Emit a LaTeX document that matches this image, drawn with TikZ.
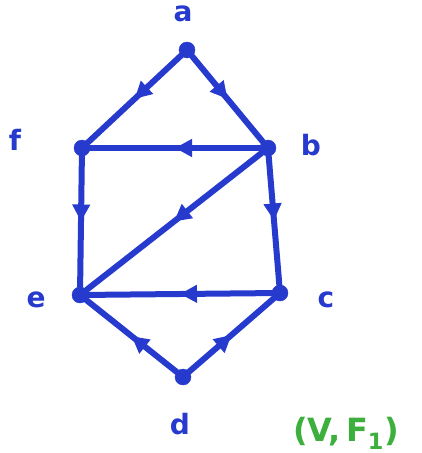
\documentclass[tikz,border=0pt]{standalone}
\usepackage{fontspec}
\setmainfont{DejaVu Sans}
\usetikzlibrary{arrows.meta,decorations.markings}
\definecolor{pen}{RGB}{38,58,205}
\definecolor{gpen}{RGB}{60,175,60}
\tikzset{
  vert/.style={circle,fill=pen,draw=pen,inner sep=0pt,minimum size=16pt},
  lab/.style={text=pen,font=\fontsize{28}{28}\selectfont\bfseries},
  edge/.style={draw=pen,line width=6pt,line cap=round,
    postaction={decorate},
    decoration={markings,mark=at position 0.5 with {\arrow[pen]{Triangle[length=17pt,width=17pt]}}}}
}
\begin{document}
\begin{tikzpicture}[x=1pt,y=-1pt]
\useasboundingbox[fill=white] (0,0) rectangle (422,453);
\node[vert] (a) at (187,50) {};
\node[vert] (f) at (82,148) {};
\node[vert] (b) at (268,148) {};
\node[vert] (e) at (80,295) {};
\node[vert] (c) at (280,293) {};
\node[vert] (d) at (183,377) {};
\node[lab] (la) at (183,14) {a};
\node[lab] (lf) at (15,140) {f};
\node[lab] (lb) at (311,145) {b};
\node[lab] (le) at (36,300) {e};
\node[lab] (lc) at (326,300) {c};
\node[lab] (ld) at (180,424) {d};
\node[text=gpen,font=\fontsize{32}{32}\selectfont\bfseries] (lbl) at (346,433) {(V,\,F$_{\mathbf 1}$)};
\draw[edge] (a) -- (f);
\draw[edge] (a) -- (b);
\draw[edge] (b) -- (f);
\draw[edge] (f) -- (e);
\draw[edge] (b) -- (c);
\draw[edge] (b) -- (e);
\draw[edge] (c) -- (e);
\draw[edge] (d) -- (e);
\draw[edge] (d) -- (c);
\end{tikzpicture}
\end{document}
